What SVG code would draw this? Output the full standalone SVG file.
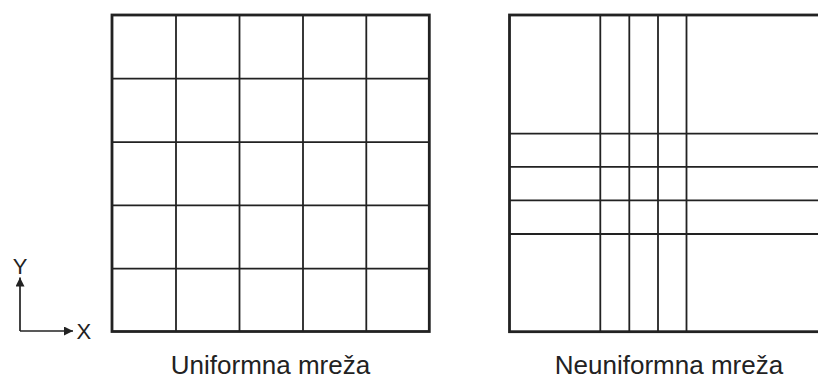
<svg xmlns="http://www.w3.org/2000/svg" width="818" height="378" viewBox="0 0 818 378">
<defs>
<style>
.border{fill:none;stroke:#222;stroke-width:2.8}
.grid{stroke:#222;stroke-width:1.8;fill:none}
.ax{stroke:#222;stroke-width:1.7;fill:none}
.lbl{font-family:"Liberation Sans",Arial,sans-serif;font-size:26px;fill:#222;text-anchor:middle}
.axl{font-family:"Liberation Sans",Arial,sans-serif;font-size:22px;fill:#222}
</style>
<marker id="ah" viewBox="0 0 10 10" refX="10" refY="5" markerWidth="11" markerHeight="9" markerUnits="userSpaceOnUse" orient="auto">
<path d="M0,0 L10,5 L0,10 z" fill="#222"/>
</marker>
</defs>
<rect width="818" height="378" fill="#fff"/>
<g id="uniform">
<g class="grid">
<line x1="176" y1="15" x2="176" y2="331"/>
<line x1="239.5" y1="15" x2="239.5" y2="331"/>
<line x1="303" y1="15" x2="303" y2="331"/>
<line x1="366.3" y1="15" x2="366.3" y2="331"/>
<line x1="112" y1="78.7" x2="429" y2="78.7"/>
<line x1="112" y1="142.2" x2="429" y2="142.2"/>
<line x1="112" y1="205.4" x2="429" y2="205.4"/>
<line x1="112" y1="268.7" x2="429" y2="268.7"/>
</g>
<rect class="border" x="112" y="15" width="317.3" height="316.5"/>
<text class="lbl" x="270.5" y="373.5">Uniformna mreža</text>
</g>
<g id="nonuniform">
<g class="grid">
<line x1="600.3" y1="15" x2="600.3" y2="331"/>
<line x1="629.3" y1="15" x2="629.3" y2="331"/>
<line x1="658" y1="15" x2="658" y2="331"/>
<line x1="686.5" y1="15" x2="686.5" y2="331"/>
<line x1="509.5" y1="133.7" x2="830" y2="133.7"/>
<line x1="509.5" y1="166.8" x2="830" y2="166.8"/>
<line x1="509.5" y1="200.3" x2="830" y2="200.3"/>
<line x1="509.5" y1="234" x2="830" y2="234"/>
</g>
<rect class="border" x="509.5" y="15" width="330" height="316.7"/>
<text class="lbl" x="669" y="373.5">Neuniformna mreža</text>
</g>
<g id="axes">
<path class="ax" d="M20,331 L20,277.5" marker-end="url(#ah)"/>
<path class="ax" d="M20,331 L73,331" marker-end="url(#ah)"/>
<text class="axl" x="20" y="273.5" text-anchor="middle">Y</text>
<text class="axl" x="76.5" y="339">X</text>
</g>
</svg>
